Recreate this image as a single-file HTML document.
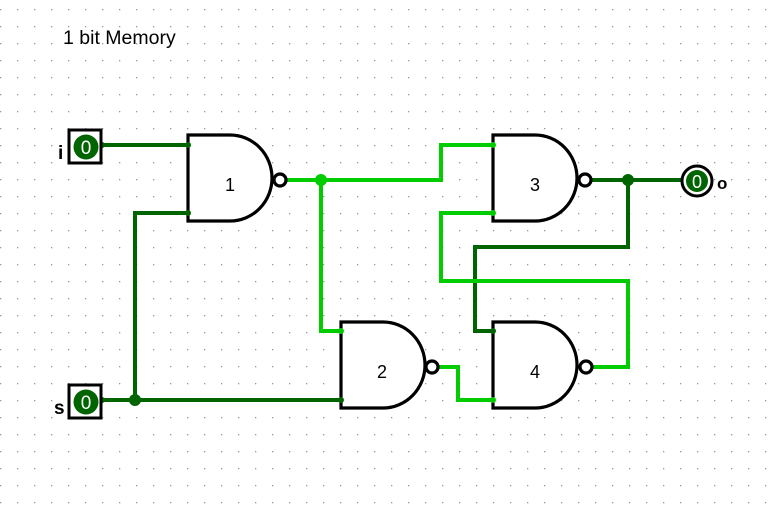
<!DOCTYPE html>
<html><head><meta charset="utf-8"><style>
html,body{margin:0;padding:0;background:#fff}
svg{display:block}
text{font-family:"Liberation Sans",sans-serif}
</style></head><body>
<svg width="774" height="507" viewBox="0 0 774 507" xmlns="http://www.w3.org/2000/svg">
<defs>
<pattern id="g" x="0" y="9" width="17" height="17" patternUnits="userSpaceOnUse">
<rect x="0" y="0" width="1.3" height="1.3" fill="#999"/>
</pattern>
</defs>
<rect width="774" height="507" fill="url(#g)"/>
<text x="63" y="44" font-size="19.5" fill="#000">1 bit Memory</text>

<g fill="none" stroke-width="4" stroke-linejoin="miter" stroke-linecap="square">
<g stroke="#006400">
<path d="M102 145 H188"/>
<path d="M188 213 H135 V400"/>
<path d="M102 400 H341"/>
<path d="M592 180 H682"/>
<path d="M628 180 V247 H475 V331 H493"/>
</g>
<g stroke="#00cc00">
<path d="M287 180 H441 V145 H493"/>
<path d="M321 180 V331 H341"/>
<path d="M439 367 H458 V400 H493"/>
<path d="M493 213 H441 V281 H628 V367 H593"/>
</g>
</g>
<circle cx="135" cy="400" r="6" fill="#006400"/>
<circle cx="628" cy="180" r="6" fill="#006400"/>
<circle cx="321" cy="180" r="6" fill="#00cc00"/>

<g fill="#fff" stroke="#000" stroke-width="3.2">
<path d="M188 135 H230 A42 43 0 0 1 230 221 H188 Z"/>
<circle cx="280" cy="180" r="6"/>
<path d="M341 322 H383 A42 43 0 0 1 383 408 H341 Z"/>
<circle cx="432" cy="367" r="6"/>
<path d="M493 135 H535 A42 43 0 0 1 535 221 H493 Z"/>
<circle cx="585" cy="180" r="6"/>
<path d="M493 322 H535 A42 43 0 0 1 535 408 H493 Z"/>
<circle cx="586" cy="367" r="6"/>
</g>
<g font-size="18" fill="#000" text-anchor="middle">
<text x="230" y="191">1</text>
<text x="382" y="378">2</text>
<text x="535" y="191">3</text>
<text x="535" y="378">4</text>
</g>
<g fill="#006400">
<circle cx="188" cy="145" r="3"/><circle cx="188" cy="213" r="3"/>
<circle cx="341" cy="400" r="3"/><circle cx="493" cy="331" r="3"/>
<circle cx="102" cy="145" r="3"/><circle cx="102" cy="400" r="3"/>
</g>
<g fill="#00cc00">
<circle cx="493" cy="145" r="3"/><circle cx="493" cy="213" r="3"/>
<circle cx="341" cy="331" r="3"/><circle cx="493" cy="400" r="3"/>
</g>

<rect x="69" y="130" width="32" height="33" fill="#fff" stroke="#000" stroke-width="3"/>
<circle cx="86" cy="147" r="12.5" fill="#006400"/>
<text x="86" y="154" font-size="19" fill="#fff" text-anchor="middle">0</text>
<text x="58" y="159" font-size="19" font-weight="bold" fill="#000">i</text>

<rect x="69" y="385" width="32" height="33" fill="#fff" stroke="#000" stroke-width="3"/>
<circle cx="86" cy="402" r="12.5" fill="#006400"/>
<text x="86" y="409" font-size="19" fill="#fff" text-anchor="middle">0</text>
<text x="54" y="414" font-size="19" font-weight="bold" fill="#000">s</text>

<circle cx="697" cy="181" r="15" fill="#fff" stroke="#000" stroke-width="3"/>
<circle cx="697" cy="181" r="11" fill="#006400"/>
<text x="697" y="188" font-size="18" fill="#fff" text-anchor="middle">0</text>
<text x="717" y="189" font-size="17" font-weight="bold" fill="#000">o</text>
</svg>
</body></html>
